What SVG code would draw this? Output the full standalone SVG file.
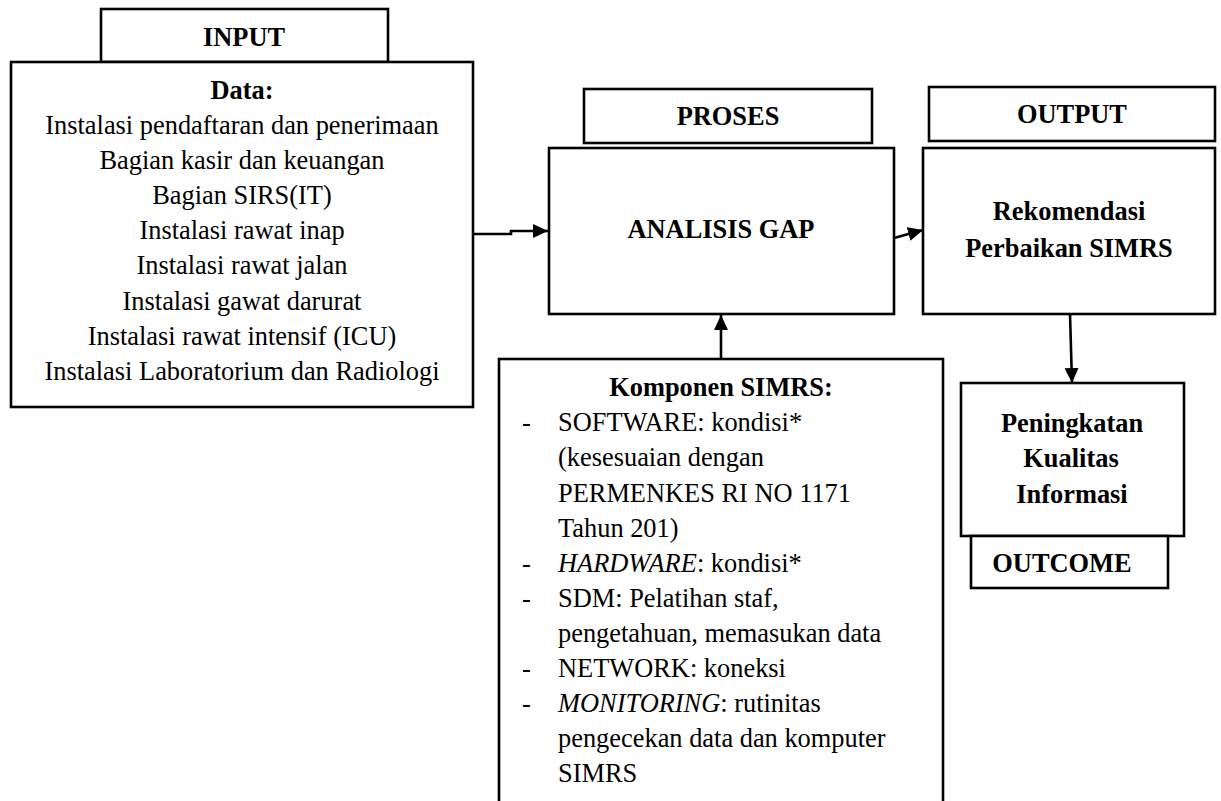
<svg xmlns="http://www.w3.org/2000/svg" width="1221" height="801" viewBox="0 0 1221 801">
<style>
.box{fill:#fff;stroke:#000;stroke-width:2.6}
.t{font-family:"Liberation Serif","Times New Roman",serif;font-size:26.4px;fill:#000}
.b{font-weight:bold}
.c{text-anchor:middle}
.i{font-style:italic}
.con{fill:none;stroke:#000;stroke-width:2.6}
</style>
<defs>
<marker id="arr" markerUnits="userSpaceOnUse" markerWidth="16" markerHeight="15" refX="15" refY="7" orient="auto">
<path d="M0,0 L15,7 L0,14 z" fill="#000"/>
</marker>
</defs>
<rect width="1221" height="801" fill="#fff"/>
<g id="input-label">
<rect class="box" x="101" y="9" width="287" height="53"/>
<text class="t b c" x="244" y="46">INPUT</text>
</g>
<g id="input">
<rect class="box" x="11" y="62" width="462" height="345"/>
<text class="t b c" x="242" y="98.5">Data:</text>
<text class="t c" x="242" y="133.5">Instalasi pendaftaran dan penerimaan</text>
<text class="t c" x="242" y="168.7">Bagian kasir dan keuangan</text>
<text class="t c" x="242" y="203.9">Bagian SIRS(IT)</text>
<text class="t c" x="242" y="239.1">Instalasi rawat inap</text>
<text class="t c" x="242" y="274.3">Instalasi rawat jalan</text>
<text class="t c" x="242" y="309.5">Instalasi gawat darurat</text>
<text class="t c" x="242" y="344.7">Instalasi rawat intensif (ICU)</text>
<text class="t c" x="242" y="379.9">Instalasi Laboratorium dan Radiologi</text>
</g>
<g id="proses-label">
<rect class="box" x="584" y="89" width="288" height="54"/>
<text class="t b c" x="728" y="125">PROSES</text>
</g>
<g id="analisis">
<rect class="box" x="549" y="148" width="345" height="166"/>
<text class="t b c" x="721" y="238">ANALISIS GAP</text>
</g>
<g id="output-label">
<rect class="box" x="929" y="87" width="286" height="54"/>
<text class="t b c" x="1072" y="123">OUTPUT</text>
</g>
<g id="rekomendasi">
<rect class="box" x="923" y="148" width="292" height="166"/>
<text class="t b c" x="1069" y="220">Rekomendasi</text>
<text class="t b c" x="1069" y="257">Perbaikan SIMRS</text>
</g>
<g id="peningkatan">
<rect class="box" x="961" y="383" width="223" height="153"/>
<text class="t b c" x="1072" y="432">Peningkatan</text>
<text class="t b c" x="1071" y="467">Kualitas</text>
<text class="t b c" x="1072" y="503">Informasi</text>
</g>
<g id="outcome-label">
<rect class="box" x="971" y="536" width="197" height="52"/>
<text class="t b c" x="1062" y="572">OUTCOME</text>
</g>
<g id="komponen">
<rect class="box" x="499" y="359" width="444" height="470"/>
<text class="t b c" x="721" y="396">Komponen SIMRS:</text>
<text class="t" x="522" y="431">-</text>
<text class="t" x="558" y="431">SOFTWARE: kondisi*</text>
<text class="t" x="558" y="466">(kesesuaian dengan</text>
<text class="t" x="558" y="502">PERMENKES RI NO 1171</text>
<text class="t" x="558" y="537">Tahun 201)</text>
<text class="t" x="522" y="572">-</text>
<text class="t" x="558" y="572"><tspan class="i">HARDWARE</tspan>: kondisi*</text>
<text class="t" x="522" y="607">-</text>
<text class="t" x="558" y="607">SDM: Pelatihan staf,</text>
<text class="t" x="558" y="642">pengetahuan, memasukan data</text>
<text class="t" x="522" y="677">-</text>
<text class="t" x="558" y="677">NETWORK: koneksi</text>
<text class="t" x="522" y="712">-</text>
<text class="t" x="558" y="712"><tspan class="i">MONITORING</tspan>: rutinitas</text>
<text class="t" x="558" y="747">pengecekan data dan komputer</text>
<text class="t" x="558" y="782">SIMRS</text>
</g>
<g id="connectors">
<path class="con" d="M473,234 H511 V231 H548" marker-end="url(#arr)"/>
<path class="con" d="M894,238 L923,230" marker-end="url(#arr)"/>
<path class="con" d="M721,359 V315" marker-end="url(#arr)"/>
<path class="con" d="M1070,314 L1072,383" marker-end="url(#arr)"/>
</g>
</svg>
